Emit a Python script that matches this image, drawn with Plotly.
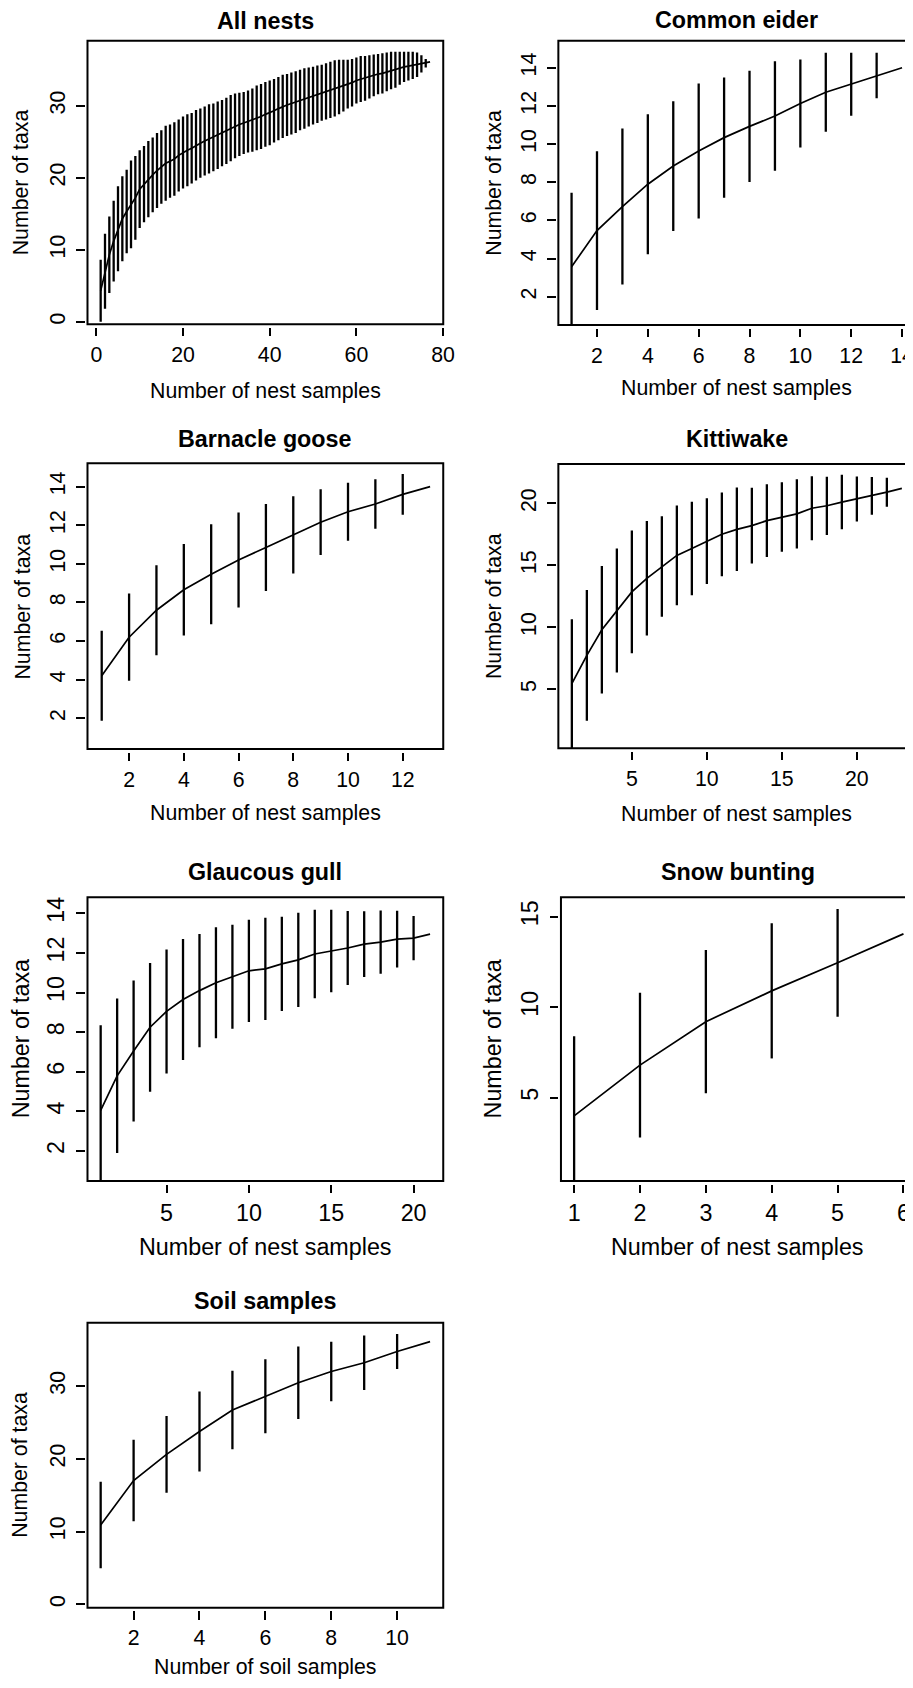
import plotly.graph_objects as go

# Page geometry: the figure sits 8px inside the page corner, and the photographed
# page is 926px wide, rescaled to the 913px window.  Positions below are given in
# window pixels and converted to figure coordinates.
OFF = 8
PAGE_W = 926
SX = PAGE_W / 913
W, H = PAGE_W - OFF, 1688 - 2 * OFF

# ---------------- data ----------------
all_x = list(range(1, 78))
all_mean = [4.3, 7.0, 9.3, 11.2, 12.9, 14.3, 15.3, 16.3, 17.2, 18.4,
            19.1, 19.8, 20.4, 21.0, 21.5, 22.0, 22.3, 22.6, 23.1, 23.5,
            23.8, 24.1, 24.5, 24.8, 25.1, 25.4, 25.6, 25.9, 26.2, 26.5,
            26.9, 27.2, 27.4, 27.6, 27.8, 28.0, 28.3, 28.5, 28.8, 29.0,
            29.3, 29.6, 29.9, 30.1, 30.3, 30.5, 30.8, 31.0, 31.2, 31.4,
            31.6, 31.8, 32.0, 32.2, 32.4, 32.6, 32.8, 33.0, 33.2, 33.5,
            33.7, 33.8, 34.0, 34.2, 34.4, 34.5, 34.7, 34.9, 35.0, 35.2,
            35.4, 35.5, 35.6, 35.7, 35.8, 35.9, 36.1]
all_half = [4.3, 5.2, 5.3, 5.6, 5.9, 5.9, 5.8, 6.1, 5.8, 5.4,
            5.3, 5.3, 5.2, 5.2, 5.1, 5.2, 5.1, 5.1, 5.0, 5.0,
            5.0, 4.9, 4.9, 4.8, 4.8, 4.8, 4.7, 4.7, 4.6, 4.6,
            4.6, 4.5, 4.4, 4.3, 4.3, 4.4, 4.5, 4.5, 4.5, 4.5,
            4.4, 4.4, 4.4, 4.3, 4.3, 4.3, 4.2, 4.2, 4.1, 4.0,
            4.0, 3.9, 3.9, 3.9, 3.9, 3.8, 3.6, 3.4, 3.3, 3.2,
            3.2, 3.1, 3.0, 2.9, 2.8, 2.8, 2.7, 2.6, 2.5, 2.3,
            2.1, 2.0, 1.9, 1.7, 1.2, 0.6, 0.0]

eider_x = list(range(1, 15))
eider_mean = [3.57, 5.47, 6.73, 7.9, 8.85, 9.64, 10.34, 10.93, 11.47, 12.13,
              12.72, 13.14, 13.6, 14.0]
eider_half = [3.88, 4.16, 4.09, 3.67, 3.40, 3.54, 3.15, 2.91, 2.87, 2.31,
              2.07, 1.65, 1.19, 0.0]

goose_x = list(range(1, 14))
goose_mean = [4.2, 6.2, 7.6, 8.66, 9.46, 10.2, 10.85, 11.5, 12.16, 12.7,
              13.1, 13.6, 14.0]
goose_half = [2.33, 2.26, 2.33, 2.37, 2.59, 2.46, 2.25, 2.0, 1.7, 1.5,
              1.28, 1.05, 0.0]

kitti_x = list(range(1, 24))
kitti_mean = [5.45, 7.74, 9.8, 11.35, 12.85, 13.95, 14.9, 15.8, 16.35, 16.95,
              17.5, 17.9, 18.2, 18.6, 18.9, 19.15, 19.6, 19.8, 20.1, 20.35,
              20.6, 20.9, 21.2]
kitti_half = [5.2, 5.27, 5.15, 5.0, 4.95, 4.62, 4.06, 4.03, 3.77, 3.45,
              3.38, 3.37, 3.06, 2.93, 2.8, 2.8, 2.58, 2.35, 2.2, 1.81,
              1.52, 1.17, 0.0]

gull_x = list(range(1, 22))
gull_mean = [4.05, 5.8, 7.05, 8.25, 9.05, 9.65, 10.1, 10.5, 10.8, 11.1,
             11.2, 11.45, 11.65, 11.95, 12.1, 12.25, 12.45, 12.55, 12.7, 12.75,
             12.95]
gull_half = [4.3, 3.9, 3.56, 3.25, 3.13, 3.05, 2.86, 2.8, 2.63, 2.58,
             2.58, 2.38, 2.38, 2.23, 2.08, 1.87, 1.66, 1.6, 1.43, 1.12,
             0.0]

bunting_x = [1, 2, 3, 4, 5, 6]
bunting_mean = [4.0, 6.8, 9.2, 10.9, 12.45, 14.05]
bunting_half = [4.4, 4.0, 3.96, 3.73, 2.98, 0.0]

soil_x = list(range(1, 12))
soil_mean = [10.9, 17.0, 20.6, 23.75, 26.7, 28.6, 30.45, 32.0, 33.2, 34.75, 36.1]
soil_half = [5.95, 5.6, 5.27, 5.5, 5.4, 5.09, 4.97, 4.08, 3.74, 2.4, 0.0]

titles = ["All nests", "Common eider", "Barnacle goose", "Kittiwake",
          "Glaucous gull", "Snow bunting", "Soil samples"]
x_titles = ["Number of nest samples"] * 6 + ["Number of soil samples"]
y_title = "Number of taxa"

x_ticks = [[0, 20, 40, 60, 80], [2, 4, 6, 8, 10, 12, 14], [2, 4, 6, 8, 10, 12],
           [5, 10, 15, 20], [5, 10, 15, 20], [1, 2, 3, 4, 5, 6], [2, 4, 6, 8, 10]]
y_ticks = [[0, 10, 20, 30], [2, 4, 6, 8, 10, 12, 14], [2, 4, 6, 8, 10, 12, 14],
           [5, 10, 15, 20], [2, 4, 6, 8, 10, 12, 14], [5, 10, 15], [0, 10, 20, 30]]

series = [(all_x, all_mean, all_half), (eider_x, eider_mean, eider_half),
          (goose_x, goose_mean, goose_half), (kitti_x, kitti_mean, kitti_half),
          (gull_x, gull_mean, gull_half), (bunting_x, bunting_mean, bunting_half),
          (soil_x, soil_mean, soil_half)]

# ---------------- layout geometry (window pixels) ----------------
# plot box: left, top, right (visible), bottom
boxes = [(87.3, 40.7, 442.7, 324.3), (557.7, 40.7, 913.0, 325.0),
         (87.3, 463.3, 442.7, 749.0), (557.7, 464.0, 913.0, 748.3),
         (87.3, 897.3, 442.7, 1181.0), (560.3, 897.3, 913.0, 1181.0),
         (87.3, 1322.7, 442.7, 1607.7)]
x_ranges = [[-2.04, 80.04], [0.48, 14.47], [0.48, 13.48], [0.1, 23.81],
            [0.2, 21.8], [0.8, 6.16], [0.6, 11.4]]
y_ranges = [[-0.36, 39.03], [0.52, 15.42], [0.41, 15.21], [0.24, 23.17],
            [0.49, 14.81], [0.4, 16.07], [-0.47, 38.7]]
title_cx = [265.0, 735.8, 265.0, 735.8, 265.0, 737.0, 265.0]
title_y = [20.7, 20.0, 438.5, 438.7, 872.3, 872.0, 1300.7]
xlab_y = [390.7, 388.3, 813.3, 814.0, 1246.7, 1246.7, 1667.0]
ylab_x = [21.7, 493.3, 23.3, 493.3, 21.0, 492.7, 20.5]
font_sizes = [21.3, 21.3, 21.3, 21.3, 23.3, 23.3, 21.3]

FONT = "Liberation Sans, Arial, Helvetica, sans-serif"


def px_x(p):
    return (p * SX - OFF) / W


def px_y(p):
    return 1 - (p - OFF) / H


fig = go.Figure()
layout = dict(width=W, height=H, margin=dict(l=0, r=0, t=0, b=0),
              paper_bgcolor="white", plot_bgcolor="white", showlegend=False,
              font=dict(family=FONT, color="black"), annotations=[], shapes=[])

for i, (xs, ms, hs) in enumerate(series):
    n = i + 1
    xa = "x" if n == 1 else f"x{n}"
    ya = "y" if n == 1 else f"y{n}"
    L, T, R, B = boxes[i]
    fs = font_sizes[i]
    fig.add_trace(go.Scatter(
        x=xs, y=ms, mode="lines", xaxis=xa, yaxis=ya,
        line=dict(color="black", width=1.7),
        error_y=dict(type="data", symmetric=True, array=hs, width=0,
                     thickness=2.3, color="black"),
        hoverinfo="skip"))
    xkey = "xaxis" if n == 1 else f"xaxis{n}"
    ykey = "yaxis" if n == 1 else f"yaxis{n}"
    layout[xkey] = dict(domain=[px_x(L), min(1.0, px_x(R))], range=x_ranges[i],
                        anchor="free", position=px_y(B + 2.5),
                        tickmode="array", tickvals=x_ticks[i],
                        ticks="outside", ticklen=8.5, tickwidth=2, tickcolor="black",
                        showline=False, showgrid=False, zeroline=False,
                        tickfont=dict(size=fs, color="black", family=FONT),
                        ticklabelstandoff=0)
    layout[ykey] = dict(domain=[px_y(B), px_y(T)], range=y_ranges[i],
                        anchor="free", position=px_x(L - 2.5),
                        tickmode="array", tickvals=y_ticks[i], tickangle=-90,
                        ticks="outside", ticklen=8.5, tickwidth=2, tickcolor="black",
                        showline=False, showgrid=False, zeroline=False,
                        tickfont=dict(size=fs, color="black", family=FONT),
                        ticklabelstandoff=3)
    layout["shapes"].append(dict(type="rect", xref=f"{xa} domain", yref=f"{ya} domain",
                                 x0=0, x1=1, y0=0, y1=1,
                                 line=dict(color="black", width=2), layer="above"))
    layout["annotations"].append(dict(text=f"<b>{titles[i]}</b>", x=px_x(title_cx[i]),
                                      y=px_y(title_y[i]),
                                      xref="paper", yref="paper", showarrow=False,
                                      xanchor="center", yanchor="middle",
                                      font=dict(size=23.3, color="black", family=FONT)))
    layout["annotations"].append(dict(text=x_titles[i], x=px_x(title_cx[i]), y=px_y(xlab_y[i]),
                                      xref="paper", yref="paper", showarrow=False,
                                      xanchor="center", yanchor="middle",
                                      font=dict(size=fs, color="black", family=FONT)))
    layout["annotations"].append(dict(text=y_title, x=px_x(ylab_x[i]), y=px_y((T + B) / 2),
                                      xref="paper", yref="paper", showarrow=False,
                                      xanchor="center", yanchor="middle", textangle=-90,
                                      font=dict(size=fs, color="black", family=FONT)))

fig.update_layout(**layout)
fig.write_html("out.html", config={"displayModeBar": False})
